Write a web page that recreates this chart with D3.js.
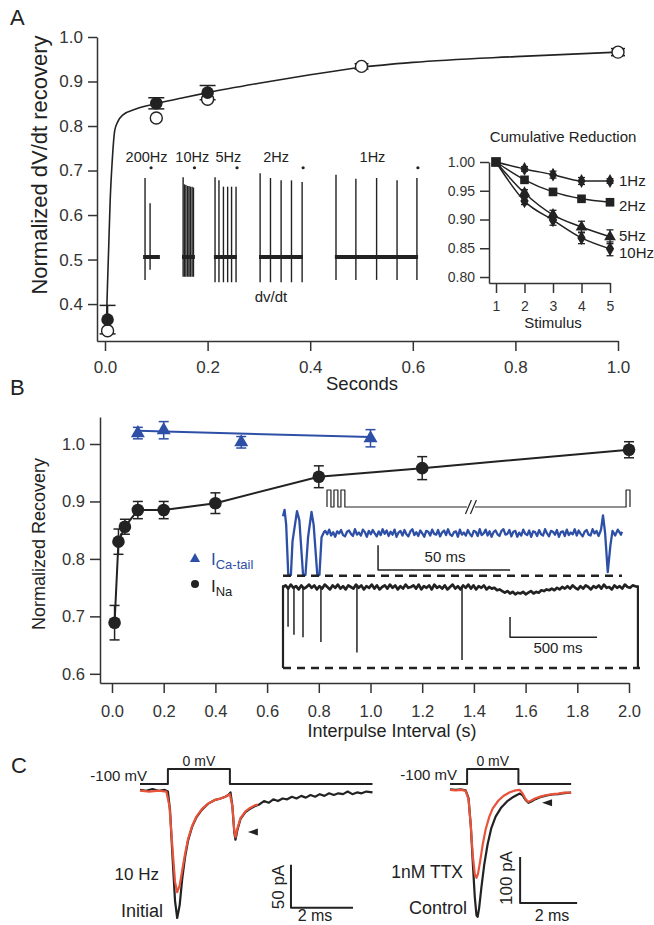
<!DOCTYPE html>
<meta charset="utf-8">
<style>
body { margin: 0; background: #fff; }
svg { display: block; }
</style>
<body>
<script src="https://cdn.jsdelivr.net/npm/d3@7"></script>
<script>

var FONT = '"Liberation Sans", Arial, Helvetica, sans-serif';
var INK = "#222";
var BLUE = "#2d4fa6";
var RED = "#e8533a";

// ---------- panel A: dV/dt recovery ----------
var aTicksX = [0, 0.2, 0.4, 0.6, 0.8, 1.0];
var aTicksY = [0.4, 0.5, 0.6, 0.7, 0.8, 0.9, 1.0];
var aFilledT = [0.005, 0.1, 0.2];
var aFilledV = [0.365, 0.851, 0.875];
var aFilledErr = [0.032, 0.0125, 0.016];
var aOpenT = [0.005, 0.1, 0.2, 0.5, 1.0];
var aOpenV = [0.340, 0.818, 0.860, 0.934, 0.966];
var aOpenErr = [0, 0, 0, 0.006, 0.008];
var aFitT = [0.003, 0.004, 0.007, 0.01, 0.014, 0.019, 0.025, 0.035, 0.06, 0.1, 0.15, 0.2, 0.3, 0.4, 0.5, 0.6, 0.8, 1.0];
var aFitV = [0.36, 0.41, 0.52, 0.63, 0.72, 0.79, 0.81, 0.825, 0.838, 0.850, 0.863, 0.875, 0.896, 0.915, 0.932, 0.943, 0.956, 0.966];

// dV/dt spike trains (trace time units, normalized dV/dt)
var trLabels = ["200Hz", "10Hz", "5Hz", "2Hz", "1Hz"];
var trSpikeT = [[1.8, 3.6], [15.4, 15.9, 16.4, 17.0, 17.5, 18.0, 18.6, 19.1], [26.8, 28.2, 29.8, 31.3, 32.7, 34.3], [42.9, 46.6, 50.4, 54.1, 57.9], [70.0, 77.1, 84.5, 91.8, 98.9]];
var trSpikeTop = [[1.0, 0.68], [1.01, 0.92, 0.91, 0.90, 0.90, 0.89, 0.89, 0.88], [1.01, 0.97, 0.89, 0.89, 0.89, 0.89], [1.06, 1.0, 0.97, 0.97, 0.95], [1.04, 0.99, 1.0, 0.97, 1.0]];
var trSpikeBot = [[-0.29, -0.16], [-0.25, -0.25, -0.25, -0.25, -0.25, -0.25, -0.25, -0.25], [-0.32, -0.32, -0.32, -0.32, -0.32, -0.32], [-0.32, -0.32, -0.32, -0.32, -0.32], [-0.29, -0.29, -0.29, -0.29, -0.29]];
var trBase = [[1.1, 7.1], [15, 19.6], [26.4, 34.6], [42.5, 58.2], [69.6, 99.3]];

// cumulative reduction inset
var cumStim = [1, 2, 3, 4, 5];
var cumTicksY = [0.80, 0.85, 0.90, 0.95, 1.00];
var cumNames = ["1Hz", "2Hz", "5Hz", "10Hz"];
var cumVals = [[1.0, 0.988, 0.978, 0.967, 0.967], [1.0, 0.969, 0.948, 0.936, 0.930], [1.0, 0.946, 0.908, 0.887, 0.870], [1.0, 0.932, 0.899, 0.868, 0.849]];
var cumErr = [[0, 0.004, 0.006, 0.006, 0.004], [0, 0.003, 0.003, 0.004, 0.005], [0, 0.006, 0.008, 0.010, 0.012], [0, 0.006, 0.009, 0.010, 0.012]];

// ---------- panel B: interpulse recovery ----------
var bTicksX = [0, 0.2, 0.4, 0.6, 0.8, 1.0, 1.2, 1.4, 1.6, 1.8, 2.0];
var bTicksY = [0.6, 0.7, 0.8, 0.9, 1.0];
var bNaT = [0.01, 0.025, 0.05, 0.1, 0.2, 0.4, 0.8, 1.2, 2.0];
var bNaV = [0.689, 0.830, 0.856, 0.885, 0.885, 0.897, 0.943, 0.958, 0.990];
var bNaErr = [0.03, 0.022, 0.013, 0.015, 0.015, 0.018, 0.019, 0.02, 0.014];
var bCaT = [0.1, 0.2, 0.5, 1.0];
var bCaV = [1.019, 1.024, 1.003, 1.010];
var bCaErr = [0.01, 0.015, 0.01, 0.015];
var bCaFitT = [0.1, 1.0];
var bCaFitV = [1.023, 1.012];

// stimulus protocol (arbitrary time units)
var protoPulses = [[0, 1.3], [2.3, 3.6], [4.6, 5.9], [98.7, 100]];
var protoBreak = 47.5;

// Ca-tail record (ms, % of full dip)
var caLead = [[0, 40], [0.6, 55], [1.2, 20], [2, -100], [3, -100], [3.6, -20], [5.3, 52], [6.2, 30], [7.6, -100], [8.5, -100], [9.5, -10], [10.8, 50], [11.6, 20], [13, -100], [13.8, -100], [14.6, -10], [15.5, 2]];
var caNoiseStart = 16, caNoiseStep = 0.75;
var caNoise = [
  5, -3, 8, -6, 2, -9, 4, -1, 7, -5, -8, 3, 6, -2, -7, 9, -4, 1, -6, 8,
  2, -9, 5, -3, 7, -1, -8, 4, -5, 9, -2, 6, -7, 3, -4, 8, -9, 1, 5, -6,
  7, -3, -8, 4, 9, -5, 2, -7, 6, -1, -9, 5, 3, -6, 8, -2, -4, 7, -8, 1,
  6, -5, 9, -3, -7, 2, 4, -9, 8, -4, 1, -6, 7, -2, -8, 5, 3, -7, 9, -5,
  -1, 8, -6, 4, -9, 2, 6, -3, -7, 5, 9, -4, -2, 7, -8, 3, 5, -9, 1, -6,
  8, -2, -5, 6, -9, 4, 2, -7, 7, -3, -6, 9, -1, -8, 5, 3, -4, 7, -9, 2,
  4, -7, 8, -5, 1, -3, 9, -6, 6, -2, -8, 3, 7, -4, -6, 9, -1, 5, -7, 4];
var caTail = [[120.5, 10], [121.2, 42], [122, 0], [123, -93], [124, -30], [124.8, 5], [125.8, -6], [126.8, 8], [128, -4], [128.4, 3]];

// INa record (ms, % of full spike)
var naNoiseStep = 15;
var naNoise = [
  0, 2, -2, 3, -1, 1, -3, 2, -2, 0, 3, -1, 2, -3, 1, -2, 3, 0, -3, 2,
  -1, 3, -2, 1, -3, 2, 0, -2, 3, -1, 2, -3, 1, -1, 3, -2, 2, -3, 0, 2,
  -2, 3, -1, 2, -3, 1, -2, 3, -1, 0, 2, -2, 3, -3, 1, -1, 2, -3, 3, -1,
  1, -2, 2, -3, 0, 3, -2, 1, -3, 2, -1, 3, -2, 2, -3, 1, -1, 2, -3, 0,
  -2, -1, -4, -3, -5, -7, -5, -8, -6, -9, -7, -8, -6, -9, -7, -5, -8, -6, -7, -4,
  -5, -3, -4, -2, -4, -1, -3, 0, -2, 1, -2, 2, -1, -3, 1, -2, 2, 0, -3, 1,
  -1, 2, -2, 3, -1, 0, -3, 2, -1, 1, -2, 3, 0, -1, 2, 1, 0];
var naSpikeT = [29, 63, 115, 218, 425, 1029];
var naSpikeDepth = [49, 59, 62, 68, 81, 90];
var naEdgeT = [0, 2040];

// ---------- panel C: currents (ms, pA) and voltage steps (ms, mV) ----------
var c1Step = [[0, -100], [0.9, -100], [0.9, 0], [2.9, 0], [2.9, -100], [7.5, -100]];
var c1Black = [[0, -1], [0.2, -2], [0.4, 0], [0.6, -2], [0.8, -1], [0.9, -3], [0.97, -25], [1.05, -80], [1.13, -130], [1.2, -150], [1.28, -135], [1.36, -105], [1.45, -80], [1.55, -60], [1.68, -44], [1.82, -33], [2.0, -24], [2.2, -17], [2.4, -13], [2.6, -11], [2.75, -9], [2.85, -7], [2.92, -4], [2.98, -20], [3.04, -50], [3.08, -59], [3.14, -48], [3.24, -35], [3.4, -27], [3.55, -23], [3.7, -20], [3.85, -18], [4.0, -14], [4.15, -16], [4.3, -12], [4.45, -14], [4.6, -11], [4.75, -12], [4.9, -9], [5.05, -11], [5.2, -8], [5.35, -10], [5.5, -7], [5.65, -9], [5.8, -6], [5.95, -8], [6.1, -5], [6.25, -7], [6.4, -5], [6.55, -6], [6.7, -3], [6.85, -6], [7.0, -4], [7.15, -5], [7.3, -3], [7.5, -4]];
var c1Red = [[0, -2], [0.3, -3], [0.6, -2], [0.85, -3], [0.95, -20], [1.05, -70], [1.13, -108], [1.2, -120], [1.28, -112], [1.36, -95], [1.45, -76], [1.55, -58], [1.68, -43], [1.82, -32], [2.0, -23], [2.2, -17], [2.4, -13], [2.6, -11], [2.75, -9], [2.9, -6], [2.98, -20], [3.04, -48], [3.08, -56], [3.14, -46], [3.24, -34], [3.4, -26], [3.55, -22], [3.7, -19], [3.8, -18]];
var c2Step = [[0, -100], [0.6, -100], [0.6, 0], [2.4, 0], [2.4, -100], [4.25, -100]];
var c2Black = [[0, -1], [0.2, -2], [0.4, -1], [0.55, -3], [0.65, -20], [0.73, -80], [0.8, -160], [0.87, -235], [0.93, -275], [0.97, -278], [1.02, -260], [1.1, -215], [1.2, -165], [1.32, -120], [1.45, -85], [1.6, -60], [1.8, -40], [2.0, -27], [2.2, -18], [2.35, -13], [2.45, -10], [2.55, -14], [2.65, -24], [2.75, -30], [2.85, -27], [3.0, -22], [3.2, -17], [3.4, -14], [3.6, -12], [3.8, -11], [4.0, -9], [4.25, -8]];
var c2Red = [[0, -2], [0.2, -3], [0.4, -2], [0.55, -4], [0.65, -22], [0.73, -80], [0.8, -145], [0.87, -185], [0.93, -193], [0.98, -185], [1.05, -160], [1.15, -120], [1.25, -88], [1.38, -60], [1.5, -42], [1.7, -25], [1.9, -14], [2.1, -7], [2.3, -3], [2.45, -2], [2.55, -10], [2.65, -22], [2.75, -28], [2.85, -25], [3.0, -20], [3.2, -16], [3.4, -13], [3.6, -11], [3.8, -10], [4.0, -8], [4.25, -8]];

// ================= drawing =================
var svg = d3.select("body").append("svg")
    .attr("width", 654)
    .attr("height", 925)
    .attr("font-family", FONT);

svg.append("rect").attr("width", 654).attr("height", 925).attr("fill", "#fff");

function styleAxis(g, gen, fs) {
  g.call(gen);
  g.attr("font-family", FONT).attr("font-size", fs);
  g.select(".domain").attr("stroke", "#333").attr("stroke-width", 1.5);
  g.selectAll(".tick line").attr("stroke", "#333").attr("stroke-width", 1.5);
  g.selectAll(".tick text").attr("fill", "#333");
  return g;
}

function label(x, y, s, size, anchor, color, rot) {
  var t = svg.append("text")
      .attr("x", x).attr("y", y)
      .attr("font-size", size)
      .attr("text-anchor", anchor || "start")
      .attr("fill", color || INK)
      .text(s);
  if (rot) t.attr("transform", "rotate(-90," + x + "," + y + ")");
  return t;
}

function errorBars(g, xs, ys, es, xS, yS, half, color, w) {
  xs.forEach(function(t, i) {
    if (!es[i]) return;
    var x = xS(t), lo = yS(ys[i] - es[i]), hi = yS(ys[i] + es[i]);
    g.append("line").attr("x1", x).attr("x2", x).attr("y1", lo).attr("y2", hi);
    g.append("line").attr("x1", x - half).attr("x2", x + half).attr("y1", lo).attr("y2", lo);
    g.append("line").attr("x1", x - half).attr("x2", x + half).attr("y1", hi).attr("y2", hi);
  });
  g.attr("stroke", color).attr("stroke-width", w || 1.5);
}

function tracePath(pts, xS, yS, color, w) {
  return svg.append("path")
      .attr("d", d3.line().x(function(d) { return xS(d[0]); }).y(function(d) { return yS(d[1]); })(pts))
      .attr("fill", "none")
      .attr("stroke", color)
      .attr("stroke-width", w)
      .attr("stroke-linejoin", "round");
}

// panel letters
label(10, 25, "A", 22);
label(10, 395, "B", 22);
label(11, 773, "C", 22);

// ---------------- Panel A ----------------
var xA = d3.scaleLinear().domain([-0.0156, 1]).range([97, 618]);
var yA = d3.scaleLinear().domain([0.317, 1]).range([341, 37]);

styleAxis(svg.append("g").attr("transform", "translate(0,341)"),
  d3.axisBottom(xA).tickValues(aTicksX).tickFormat(d3.format(".1f")).tickSize(10).tickSizeOuter(0).tickPadding(10), 17);
styleAxis(svg.append("g").attr("transform", "translate(97,0)"),
  d3.axisLeft(yA).tickValues(aTicksY).tickFormat(d3.format(".1f")).tickSize(9).tickSizeOuter(0).tickPadding(5), 17);

label(362, 390, "Seconds", 18.5, "middle");
label(47, 165, "Normalized dV/dt recovery", 22, "middle", INK, true);

svg.append("path")
    .datum(d3.zip(aFitT, aFitV))
    .attr("d", d3.line().x(function(d) { return xA(d[0]); }).y(function(d) { return yA(d[1]); }).curve(d3.curveMonotoneX))
    .attr("fill", "none").attr("stroke", INK).attr("stroke-width", 1.6);

errorBars(svg.append("g"), aFilledT, aFilledV, aFilledErr, xA, yA, 8, INK);
errorBars(svg.append("g"), aOpenT, aOpenV, aOpenErr, xA, yA, 7, INK);

svg.append("g").selectAll("circle").data(aOpenT).join("circle")
    .attr("cx", function(d) { return xA(d); })
    .attr("cy", function(d, i) { return yA(aOpenV[i]); })
    .attr("r", 6).attr("fill", "#fff").attr("stroke", INK).attr("stroke-width", 1.4);
svg.append("g").selectAll("circle").data(aFilledT).join("circle")
    .attr("cx", function(d) { return xA(d); })
    .attr("cy", function(d, i) { return yA(aFilledV[i]); })
    .attr("r", 6.3).attr("fill", INK);

// spike trains
var xTr = d3.scaleLinear().domain([0, 100]).range([140, 420]);
var yTr = d3.scaleLinear().domain([0, 1]).range([257, 178]);
var trLabelDx = [-1, 4, 3, -5, -4];
var trG = svg.append("g").attr("stroke", INK);
trSpikeT.forEach(function(ts, gi) {
  trG.append("line")
      .attr("x1", xTr(trBase[gi][0])).attr("x2", xTr(trBase[gi][1]))
      .attr("y1", yTr(0)).attr("y2", yTr(0))
      .attr("stroke-width", 4);
  ts.forEach(function(t, k) {
    trG.append("line")
        .attr("x1", xTr(t)).attr("x2", xTr(t))
        .attr("y1", yTr(trSpikeTop[gi][k])).attr("y2", yTr(trSpikeBot[gi][k]))
        .attr("stroke-width", 1.4);
  });
  var last = ts[ts.length - 1];
  svg.append("circle").attr("cx", xTr(last) + 1).attr("cy", yTr(1.13)).attr("r", 1.6).attr("fill", INK);
  label(xTr(d3.mean(ts)) + trLabelDx[gi], 162, trLabels[gi], 14.5, "middle");
});
label(271, 302, "dv/dt", 15, "middle");

// cumulative reduction inset
var xI = d3.scaleLinear().domain([0.754, 5]).range([489, 610]);
var yI = d3.scaleLinear().domain([0.7896, 1.0]).range([283, 162]);
styleAxis(svg.append("g").attr("transform", "translate(0,283)"),
  d3.axisBottom(xI).tickValues(cumStim).tickFormat(d3.format("d")).tickSize(10).tickSizeOuter(0).tickPadding(8), 14);
styleAxis(svg.append("g").attr("transform", "translate(489,0)"),
  d3.axisLeft(yI).tickValues(cumTicksY).tickFormat(d3.format(".2f")).tickSize(9).tickSizeOuter(0).tickPadding(5), 14);
label(563, 142, "Cumulative Reduction", 15, "middle");
label(553, 328, "Stimulus", 15, "middle");

var cumSym = [d3.symbolDiamond, d3.symbolSquare, d3.symbolTriangle, d3.symbolDiamond];
var cumSize = [55, 75, 60, 60];
var cumLabelDy = [0, 3, -1, 4];
cumVals.forEach(function(vals, si) {
  svg.append("path")
      .datum(d3.zip(cumStim, vals))
      .attr("d", d3.line().x(function(d) { return xI(d[0]); }).y(function(d) { return yI(d[1]); }).curve(d3.curveMonotoneX))
      .attr("fill", "none").attr("stroke", INK).attr("stroke-width", 1.5);
  errorBars(svg.append("g"), cumStim, vals, cumErr[si], xI, yI, 3.5, INK, 1.3);
  svg.append("g").selectAll("path").data(cumStim.slice(1)).join("path")
      .attr("transform", function(d, i) { return "translate(" + xI(d) + "," + yI(vals[i + 1]) + ")"; })
      .attr("d", d3.symbol().type(cumSym[si]).size(cumSize[si]))
      .attr("fill", INK);
  label(xI(5) + 9, yI(vals[4]) + cumLabelDy[si], cumNames[si], 15).attr("dy", "0.35em");
});
svg.append("path")
    .attr("transform", "translate(" + xI(cumStim[0]) + "," + yI(cumVals[0][0]) + ")")
    .attr("d", d3.symbol().type(d3.symbolSquare).size(95))
    .attr("fill", INK);

// ---------------- Panel B ----------------
var xB = d3.scaleLinear().domain([-0.0464, 2.0]).range([100, 629]);
var yB = d3.scaleLinear().domain([0.584, 1.047]).range([683, 417]);

styleAxis(svg.append("g").attr("transform", "translate(0,683)"),
  d3.axisBottom(xB).tickValues(bTicksX).tickFormat(d3.format(".1f")).tickSize(10).tickSizeOuter(0).tickPadding(12), 16.5);
styleAxis(svg.append("g").attr("transform", "translate(100,0)"),
  d3.axisLeft(yB).tickValues(bTicksY).tickFormat(d3.format(".1f")).tickSize(10).tickSizeOuter(0).tickPadding(5), 16.5);
label(392, 737, "Interpulse Interval (s)", 18, "middle");
label(45, 544, "Normalized Recovery", 18, "middle", INK, true);

// stimulus protocol
var xP = d3.scaleLinear().domain([0, 100]).range([327, 630]);
var yP = d3.scaleLinear().domain([0, 1]).range([507, 490]);
var protoPts = [];
protoPulses.forEach(function(p) { protoPts.push([p[0], 0], [p[0], 1], [p[1], 1], [p[1], 0]); });
tracePath(protoPts, xP, yP, INK, 1.2);
svg.append("rect").attr("x", xP(protoBreak) - 4).attr("y", yP(0) - 3).attr("width", 8).attr("height", 6).attr("fill", "#fff");
[-2.5, 2.5].forEach(function(o) {
  svg.append("line")
      .attr("x1", xP(protoBreak) + o - 3).attr("x2", xP(protoBreak) + o + 3)
      .attr("y1", yP(0) + 7).attr("y2", yP(0) - 7)
      .attr("stroke", INK).attr("stroke-width", 1.2);
});

// Ca-tail trace
var xCa = d3.scaleLinear().domain([0, 128.4]).range([283, 622]);
var yCa = d3.scaleLinear().domain([0, -100]).range([533, 575]);
var caPts = caLead.concat(caNoise.map(function(v, i) { return [caNoiseStart + i * caNoiseStep, v]; }), caTail);
tracePath(caPts, xCa, yCa, BLUE, 2.3);
svg.append("line").attr("x1", xCa(0)).attr("x2", xCa(128.4)).attr("y1", yCa(-102)).attr("y2", yCa(-102))
    .attr("stroke", INK).attr("stroke-width", 2.5).attr("stroke-dasharray", "8,6");
tracePath([[36, -29], [36, -88], [86, -88]], xCa, yCa, INK, 1.5);
label((xCa(36) + xCa(86)) / 2 + 1, 562, "50 ms", 15, "middle");

// INa trace
var xNa = d3.scaleLinear().domain([0, 2052]).range([283, 640]);
var yNa = d3.scaleLinear().domain([0, -100]).range([587, 668]);
tracePath(naNoise.map(function(v, i) { return [i * naNoiseStep, v]; }), xNa, yNa, INK, 2.7);
naSpikeT.forEach(function(t, i) {
  tracePath([[t, 0], [t, -naSpikeDepth[i]]], xNa, yNa, INK, 1.5);
});
naEdgeT.forEach(function(t) {
  tracePath([[t, 2], [t, -100]], xNa, yNa, INK, 2.2);
});
svg.append("line").attr("x1", xNa(0)).attr("x2", xNa(2052)).attr("y1", yNa(-100)).attr("y2", yNa(-100))
    .attr("stroke", INK).attr("stroke-width", 2.5).attr("stroke-dasharray", "8,6");
tracePath([[1305, -37], [1305, -62], [1805, -62]], xNa, yNa, INK, 1.5);
label(558, 653, "500 ms", 15, "middle");

// data
svg.append("path")
    .datum(d3.zip(bNaT, bNaV))
    .attr("d", d3.line().x(function(d) { return xB(d[0]); }).y(function(d) { return yB(d[1]); }))
    .attr("fill", "none").attr("stroke", INK).attr("stroke-width", 2);
svg.append("path")
    .datum(d3.zip(bCaFitT, bCaFitV))
    .attr("d", d3.line().x(function(d) { return xB(d[0]); }).y(function(d) { return yB(d[1]); }))
    .attr("fill", "none").attr("stroke", BLUE).attr("stroke-width", 2);
errorBars(svg.append("g"), bNaT, bNaV, bNaErr, xB, yB, 5, INK);
errorBars(svg.append("g"), bCaT, bCaV, bCaErr, xB, yB, 5, BLUE);
svg.append("g").selectAll("circle").data(bNaT).join("circle")
    .attr("cx", function(d) { return xB(d); })
    .attr("cy", function(d, i) { return yB(bNaV[i]); })
    .attr("r", 6.3).attr("fill", INK);
svg.append("g").selectAll("path").data(bCaT).join("path")
    .attr("transform", function(d, i) { return "translate(" + xB(d) + "," + yB(bCaV[i]) + ")"; })
    .attr("d", d3.symbol().type(d3.symbolTriangle).size(85))
    .attr("fill", BLUE);

// legend
svg.append("path").attr("transform", "translate(195,559)")
    .attr("d", d3.symbol().type(d3.symbolTriangle).size(45)).attr("fill", BLUE);
svg.append("circle").attr("cx", 195).attr("cy", 584).attr("r", 4).attr("fill", INK);
var l1 = label(211, 565, "I", 17, "start", BLUE);
l1.append("tspan").attr("dy", 4).attr("font-size", 13).text("Ca-tail");
var l2 = label(211, 592, "I", 17, "start", INK);
l2.append("tspan").attr("dy", 4).attr("font-size", 13).text("Na");

// ---------------- Panel C ----------------
// left: 10 Hz vs initial
var xC1 = d3.scaleLinear().domain([0, 1]).range([140, 171]);
var yC1 = d3.scaleLinear().domain([0, -150]).range([789, 918]);
var yV1 = d3.scaleLinear().domain([-100, 0]).range([784, 769]);
tracePath(c1Step, xC1, yV1, INK, 2);
tracePath(c1Black, xC1, yC1, INK, 2.2);
tracePath(c1Red, xC1, yC1, RED, 2.2);
tracePath([[4.87, -88], [4.87, -138], [6.87, -138]], xC1, yC1, INK, 2);
svg.append("path")
    .attr("d", "M" + xC1(3.48) + "," + yC1(-50) + "l10,-3.5v7z")
    .attr("fill", INK);
label(147, 781, "-100 mV", 15, "end");
label(xC1(1.9), 766, "0 mV", 14, "middle");
label(159, 880, "10 Hz", 17, "end");
label(163, 917, "Initial", 18, "end");
label(284, 887, "50 pA", 17, "middle", INK, true);
label(315, 921, "2 ms", 16, "middle");

// right: 1 nM TTX vs control
var xC2 = d3.scaleLinear().domain([0, 1]).range([450, 478.5]);
var yC2 = d3.scaleLinear().domain([0, -100]).range([789, 835]);
var yV2 = d3.scaleLinear().domain([-100, 0]).range([784, 769]);
tracePath(c2Step, xC2, yV2, INK, 2);
tracePath(c2Black, xC2, yC2, INK, 2.2);
tracePath(c2Red, xC2, yC2, RED, 2.2);
tracePath([[2.46, -148], [2.46, -248], [4.46, -248]], xC2, yC2, INK, 2);
svg.append("path")
    .attr("d", "M" + xC2(3.23) + "," + yC2(-30) + "l10,-3.5v7z")
    .attr("fill", INK);
label(457, 780, "-100 mV", 15, "end");
label(xC2(1.5), 766, "0 mV", 14, "middle");
label(463, 878, "1nM TTX", 17.5, "end");
label(467, 914, "Control", 18, "end");
label(512, 878, "100 pA", 17, "middle", INK, true);
label(552, 921, "2 ms", 16, "middle");

</script>
